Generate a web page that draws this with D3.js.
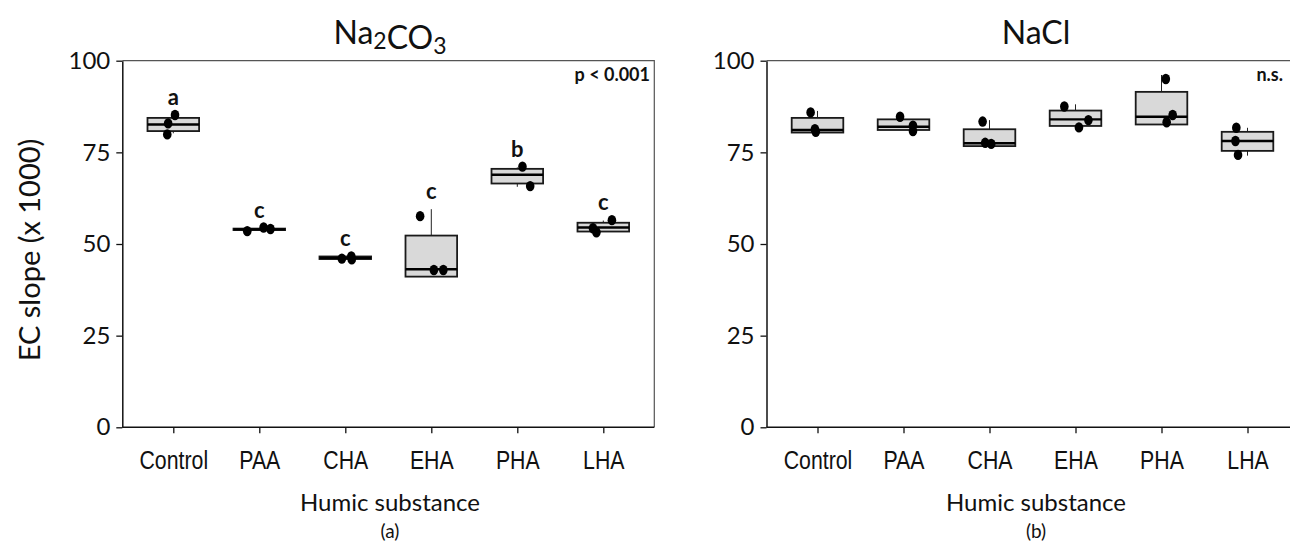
<!DOCTYPE html>
<html>
<head>
<meta charset="utf-8">
<script src="https://cdn.jsdelivr.net/npm/d3@7"></script>
<style>
  body { margin: 0; background: #fff; }
  svg { display: block; }
  .lab { font-family: Lato, "Open Sans", sans-serif; fill: #111; }
</style>
</head>
<body>
<div id="chart"></div>
<script>
const categories = ['Control', 'PAA', 'CHA', 'EHA', 'PHA', 'LHA'];
const yTicks = [0, 25, 50, 75, 100];

// Na2CO3 panel
const naCO3Q1 = [80.8, 53.8, 45.9, 41.1, 66.5, 53.4];
const naCO3Median = [82.6, 54.0, 46.2, 43.1, 68.9, 54.5];
const naCO3Q3 = [84.4, 54.2, 46.6, 52.3, 70.5, 55.8];
const naCO3Lo = [80.2, 53.8, 45.9, 41.1, 65.6, 53.4];
const naCO3Hi = [85.0, 54.2, 46.6, 59.5, 70.9, 56.4];
const naCO3Points = [[85.2, 82.9, 79.9], [53.5, 54.5, 54.1], [46.0, 46.6, 45.8], [57.6, 42.9, 42.9], [71.1, 65.8], [56.5, 54.3, 53.2]];
const naCO3Jitter = [[0.02, -0.06, -0.07], [-0.14, 0.05, 0.13], [-0.04, 0.07, 0.075], [-0.13, 0.03, 0.14], [0.06, 0.15], [0.10, -0.12, -0.08]];
const naCO3Letters = ['a', 'c', 'c', 'c', 'b', 'c'];

// NaCl panel
const naClQ1 = [80.4, 81.1, 76.7, 82.2, 82.6, 75.4];
const naClMedian = [81.1, 82.0, 77.5, 84.0, 84.7, 78.1];
const naClQ3 = [84.4, 84.0, 81.3, 86.4, 91.5, 80.6];
const naClLo = [80.4, 81.1, 76.7, 82.2, 82.6, 74.1];
const naClHi = [86.3, 84.0, 83.8, 88.1, 96.1, 81.7];
const naClPoints = [[85.9, 81.3, 80.6], [84.7, 82.3, 80.8], [83.4, 77.6, 77.3], [87.5, 83.8, 81.8], [95.0, 85.2, 83.2], [81.7, 78.1, 74.3]];
const naClJitter = [[-0.08, -0.03, -0.02], [-0.04, 0.11, 0.11], [-0.08, -0.05, 0.02], [-0.13, 0.15, 0.04], [0.05, 0.13, 0.06], [-0.13, -0.14, -0.11]];

const width = 1290, height = 553;
const svg = d3.select('#chart').append('svg')
  .attr('width', width)
  .attr('height', height);

const plotTop = 60.7, plotBottom = 427.3, panelW = 532;

const y = d3.scaleLinear().domain([0, 100]).range([plotBottom, plotTop]);

const drawPanel = (x0, title, stats, letters, note, noteX, capX) => {
  const g = svg.append('g');
  const x = d3.scalePoint()
    .domain(categories)
    .range([x0, x0 + panelW])
    .padding(0.593);
  const step = x.step();
  const jit = d3.scaleLinear().domain([-0.5, 0.5]).range([-step / 2, step / 2]);
  const boxW = step * 0.6;

  // frame (top + right)
  g.append('path')
    .attr('d', `M${x0},${plotTop}H${x0 + panelW}V${plotBottom}`)
    .attr('fill', 'none')
    .attr('stroke', '#555')
    .attr('stroke-width', 1.2);

  // y axis
  const ay = g.append('g')
    .attr('transform', `translate(${x0},0)`)
    .call(d3.axisLeft(y).tickValues(yTicks).tickSize(6).tickPadding(6).tickSizeOuter(0));
  ay.select('.domain').attr('stroke', '#111').attr('stroke-width', 1.5);
  ay.selectAll('.tick line').attr('stroke', '#111').attr('stroke-width', 1.3);
  ay.selectAll('text').attr('fill', '#111')
    .style('font-family', 'Lato, "Open Sans", sans-serif')
    .style('font-size', '24px');

  // x axis (narrow labels: Liberation Sans squeezed horizontally)
  const ax = g.append('g')
    .attr('transform', `translate(0,${plotBottom})`)
    .call(d3.axisBottom(x).tickSize(6).tickPadding(17).tickSizeOuter(0));
  ax.select('.domain').attr('d', `M${x0},0H${x0 + panelW}`).attr('stroke', '#111').attr('stroke-width', 1.5);
  ax.selectAll('.tick line').attr('stroke', '#111').attr('stroke-width', 1.3);
  ax.selectAll('text').attr('fill', '#111')
    .attr('transform', 'scale(0.82,1)')
    .style('font-family', '"Liberation Sans", Arial, sans-serif')
    .style('font-size', '26px');

  const rows = categories.map((c, i) => ({
    c, q1: stats.q1[i], med: stats.med[i], q3: stats.q3[i], lo: stats.lo[i], hi: stats.hi[i],
    pts: stats.pts[i].map((v, j) => ({ v, j: stats.jit[i][j] }))
  }));

  // whiskers
  g.append('g').selectAll('line')
    .data(rows.flatMap(d => [{ c: d.c, a: d.q3, b: d.hi }, { c: d.c, a: d.q1, b: d.lo }]))
    .join('line')
      .attr('x1', d => x(d.c)).attr('x2', d => x(d.c))
      .attr('y1', d => y(d.a)).attr('y2', d => y(d.b))
      .attr('stroke', '#222').attr('stroke-width', 1);

  // boxes
  g.append('g').selectAll('rect')
    .data(rows)
    .join('rect')
      .attr('x', d => x(d.c) - boxW / 2)
      .attr('width', boxW)
      .attr('y', d => y(d.q3))
      .attr('height', d => y(d.q1) - y(d.q3))
      .attr('fill', '#d9d9d9')
      .attr('stroke', '#1a1a1a')
      .attr('stroke-width', 1.8);

  // medians
  g.append('g').selectAll('line')
    .data(rows)
    .join('line')
      .attr('x1', d => x(d.c) - boxW / 2).attr('x2', d => x(d.c) + boxW / 2)
      .attr('y1', d => y(d.med)).attr('y2', d => y(d.med))
      .attr('stroke', '#000').attr('stroke-width', 2.4);

  // points
  g.append('g').selectAll('ellipse')
    .data(rows.flatMap(d => d.pts.map(p => ({ c: d.c, ...p }))))
    .join('ellipse')
      .attr('cx', d => x(d.c) + jit(d.j))
      .attr('cy', d => y(d.v))
      .attr('rx', 4.3).attr('ry', 5.2)
      .attr('fill', '#000');

  // significance letters
  if (letters) {
    g.append('g').selectAll('text')
      .data(rows)
      .join('text')
        .attr('class', 'lab')
        .attr('x', d => x(d.c))
        .attr('y', d => y(Math.max(d.hi, ...d.pts.map(p => p.v))) - 10)
        .attr('text-anchor', 'middle')
        .style('font-size', '22px')
        .style('font-weight', 700)
        .text((d, i) => letters[i]);
  }

  g.append('text')
    .attr('class', 'lab')
    .attr('x', noteX)
    .attr('y', 81)
    .attr('text-anchor', 'end')
    .style('font-size', '18px')
    .style('font-weight', 700)
    .text(note);

  // title
  const t = g.append('text')
    .attr('class', 'lab')
    .attr('x', capX)
    .attr('y', 44)
    .attr('text-anchor', 'middle')
    .style('font-size', '32px');
  title.forEach(part => {
    if (part.sub) {
      t.append('tspan').attr('dy', 5).style('font-size', '23px').text(part.s);
      t.append('tspan').attr('dy', -5).text('');
    } else {
      t.append('tspan').text(part.s);
    }
  });

  g.append('text')
    .attr('class', 'lab')
    .attr('x', capX)
    .attr('y', 511)
    .attr('text-anchor', 'middle')
    .style('font-size', '24px')
    .text('Humic substance');
};

drawPanel(122.3, [{ s: 'Na' }, { s: '2', sub: true }, { s: 'CO' }, { s: '3', sub: true }],
  { q1: naCO3Q1, med: naCO3Median, q3: naCO3Q3, lo: naCO3Lo, hi: naCO3Hi, pts: naCO3Points, jit: naCO3Jitter },
  naCO3Letters, 'p < 0.001', 650, 390);

drawPanel(766.5, [{ s: 'NaCl' }],
  { q1: naClQ1, med: naClMedian, q3: naClQ3, lo: naClLo, hi: naClHi, pts: naClPoints, jit: naClJitter },
  null, 'n.s.', 1283, 1036);

// y label
svg.append('text')
  .attr('class', 'lab')
  .attr('transform', `translate(40,${(plotTop + plotBottom) / 2 + 6}) rotate(-90)`)
  .attr('text-anchor', 'middle')
  .style('font-size', '29px')
  .text('EC slope (x 1000)');

svg.append('text').attr('class', 'lab')
  .attr('x', 390).attr('y', 538).attr('text-anchor', 'middle')
  .style('font-size', '19px').text('(a)');
svg.append('text').attr('class', 'lab')
  .attr('x', 1036).attr('y', 538).attr('text-anchor', 'middle')
  .style('font-size', '19px').text('(b)');
</script>
</body>
</html>
